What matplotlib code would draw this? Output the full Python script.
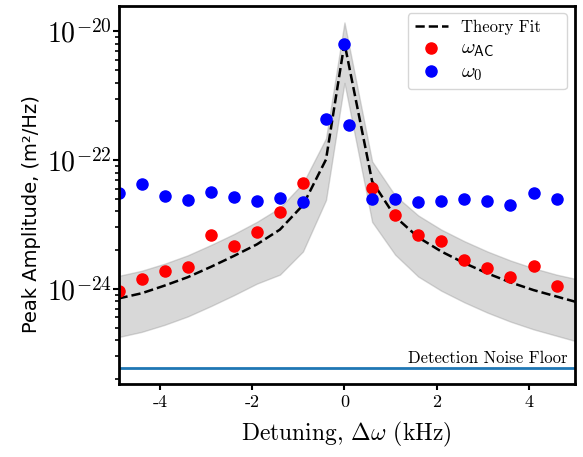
import numpy as np
import matplotlib
matplotlib.use('Agg')
import matplotlib.pyplot as plt
from matplotlib.ticker import FixedLocator, NullFormatter

plt.rcParams['mathtext.fontset'] = 'cm'
plt.rcParams['axes.unicode_minus'] = False

# detuning (kHz) and peak amplitudes (log10 of m^2/Hz)
x_ac = [-4.9, -4.4, -3.9, -3.4, -2.9, -2.4, -1.9, -1.4, -0.9,
        0.6, 1.1, 1.6, 2.1, 2.6, 3.1, 3.6, 4.1, 4.6]
log_ac = [-24.03, -23.84, -23.72, -23.66, -23.16, -23.33, -23.12, -22.81, -22.36,
          -22.43, -22.85, -23.16, -23.25, -23.55, -23.68, -23.81, -23.64, -23.95]

x_0 = [-4.9, -4.4, -3.9, -3.4, -2.9, -2.4, -1.9, -1.4, -0.9, -0.4, 0.0, 0.1,
       0.6, 1.1, 1.6, 2.1, 2.6, 3.1, 3.6, 4.1, 4.6]
log_0 = [-22.51, -22.37, -22.56, -22.62, -22.49, -22.58, -22.63, -22.59, -22.65,
         -21.36, -20.20, -21.45, -22.60, -22.60, -22.65, -22.63, -22.60, -22.64,
         -22.70, -22.51, -22.60]

# theory fit with its uncertainty band
x_fit = [-4.9, -4.4, -3.9, -3.4, -2.9, -2.4, -1.9, -1.4, -0.9, -0.4, 0.0,
         0.6, 1.1, 1.6, 2.1, 2.6, 3.1, 3.6, 4.1, 4.6, 5.1]
log_fit = [-24.15, -24.07, -23.95, -23.82, -23.66, -23.49, -23.31, -23.08, -22.70,
           -21.99, -20.18, -22.33, -22.88, -23.20, -23.42, -23.60, -23.76, -23.90,
           -24.02, -24.12, -24.22]
log_hi = [-23.80, -23.72, -23.61, -23.48, -23.32, -23.15, -22.96, -22.74, -22.36,
          -21.66, -19.86, -22.02, -22.55, -22.86, -23.08, -23.26, -23.42, -23.56,
          -23.68, -23.78, -23.86]
log_lo = [-24.75, -24.67, -24.56, -24.43, -24.27, -24.10, -23.92, -23.78, -23.42,
          -22.62, -20.80, -22.96, -23.47, -23.81, -24.03, -24.21, -24.37, -24.51,
          -24.63, -24.73, -24.83]

noise_floor = 10 ** -25.23

fig = plt.figure(figsize=(5.83, 4.57), dpi=100)
ax = fig.add_axes([0.2033, 0.1597, 0.783, 0.8278])

ax.fill_between(x_fit, 10.0 ** np.array(log_lo), 10.0 ** np.array(log_hi),
                color='gray', alpha=0.3)
ax.plot(x_fit, 10.0 ** np.array(log_fit), 'k--', lw=1.8, label='Theory Fit')
ax.plot(x_ac, 10.0 ** np.array(log_ac), 'o', color='red', ms=8,
        label=r'$\omega_\mathsf{AC}$')
ax.plot(x_0, 10.0 ** np.array(log_0), 'o', color='blue', ms=8,
        label=r'$\omega_\mathsf{0}$')
ax.axhline(noise_floor, color='#1f77b4', lw=2)
ax.text(4.83, 10 ** -25.15, 'Detection Noise Floor', ha='right', va='baseline',
        fontfamily='cmr10', fontsize=12)

ax.set_yscale('log')
ax.set_xlim(-4.9, 5.0)
ax.set_ylim(10 ** -25.48, 10 ** -19.6)

# major ticks every two decades, minor ticks spread over each two-decade span
ax.yaxis.set_major_locator(FixedLocator([1e-24, 1e-22, 1e-20]))
ax.set_yticklabels([r'$10^{\mathsf{-24}}$', r'$10^{\mathsf{-22}}$',
                    r'$10^{\mathsf{-20}}$'])
minor = [10.0 ** (e + 2 * np.log10(k)) for e in range(-28, -18, 2) for k in range(2, 10)]
ax.yaxis.set_minor_locator(FixedLocator(minor))
ax.yaxis.set_minor_formatter(NullFormatter())

ax.set_xticks([-4, -2, 0, 2, 4])
ax.set_xticklabels(['-4', '-2', '0', '2', '4'], fontfamily='cmr10', fontsize=13)

ax.tick_params(axis='y', which='major', labelsize=20, length=4, width=1.5, pad=1)
ax.tick_params(axis='y', which='minor', length=3, width=1.2)
ax.tick_params(axis='x', which='major', length=4, width=1.5)
for sp in ax.spines.values():
    sp.set_linewidth(2)

ax.set_xlabel(r'Detuning, $\Delta\omega$ (kHz)', fontfamily='cmr10', fontsize=17,
              labelpad=7)
ax.set_ylabel('Peak Amplitude, (m²/Hz)', fontsize=14)
ax.yaxis.label.set_y(0.45)

leg = ax.legend(loc='upper left', bbox_to_anchor=(0.634, 0.98, 0.348, 0.0),
                mode='expand', borderaxespad=0, labelspacing=0.25,
                prop={'family': 'cmr10', 'size': 12})
for t in leg.get_texts()[1:]:
    t.set_fontsize(15)

fig.savefig('out.png', dpi=100)
